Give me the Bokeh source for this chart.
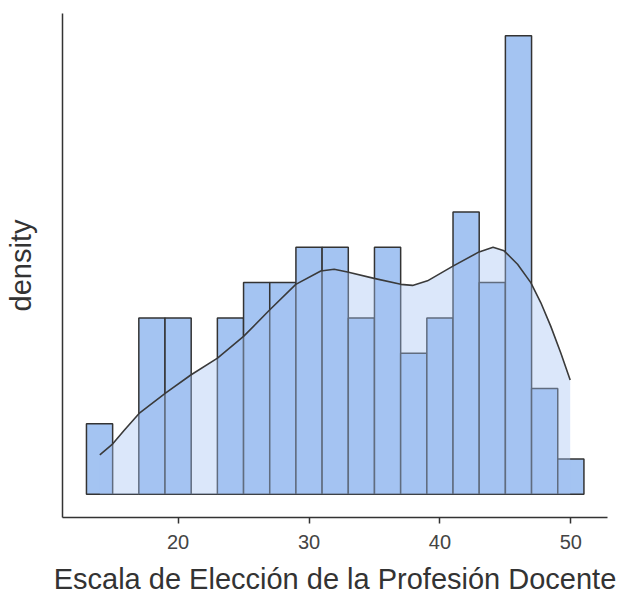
from bokeh.plotting import figure
from bokeh.models import Range1d, FixedTicker
from bokeh.embed import file_html
from bokeh.resources import INLINE

# ---- data ----
bin_left = [13, 15, 17, 19, 21, 23, 25, 27, 29, 31, 33, 35, 37, 39, 41, 43, 45, 47, 49]
bin_width = 2
counts = [2, 0, 5, 5, 0, 5, 6, 6, 7, 7, 5, 7, 4, 5, 8, 6, 13, 3, 1]

kde_x = [14.02, 15.01, 15.87, 17.02, 19.06, 20.97, 23.01, 25.00, 26.95, 28.99,
         30.90, 31.92, 32.94, 34.97, 37.01, 37.91, 39.05, 40.96, 42.99, 44.06,
         44.90, 45.93, 46.94, 47.71, 48.47, 49.24, 49.95]
kde_density = [0.00586, 0.00752, 0.00952, 0.01205, 0.01513, 0.01779, 0.02030, 0.02355,
               0.02742, 0.03132, 0.03332, 0.03358, 0.03316, 0.03221, 0.03132, 0.03116,
               0.03184, 0.03400, 0.03616, 0.03684, 0.03632, 0.03432, 0.03158, 0.02857,
               0.02505, 0.02105, 0.01705]

x_ticks = [20, 30, 40, 50]
x_label = "Escala de Elección de la Profesión Docente"
y_label = "density"

# ---- derived histogram (density normalisation) ----
n_total = sum(counts)
bin_right = [b + bin_width for b in bin_left]
density = [c / (n_total * bin_width) for c in counts]

BAR = "#a4c4f2"
EDGE = "#333333"
FONT = "Liberation Sans"

p = figure(width=621, height=598, output_backend="svg", toolbar_location=None,
           x_range=Range1d(11.17, 52.80),
           y_range=Range1d(-0.66 / (n_total * bin_width), 13.63 / (n_total * bin_width)),
           min_border_left=62, min_border_right=14, min_border_top=13, min_border_bottom=81)
p.outline_line_color = None
p.xgrid.grid_line_color = None
p.ygrid.grid_line_color = None
p.background_fill_color = "white"
p.border_fill_color = "white"

p.quad(left=bin_left, right=bin_right, bottom=0, top=density,
       fill_color=BAR, line_color=EDGE, line_width=1.5)
p.varea(x=kde_x, y1=0, y2=kde_density, fill_color=BAR, fill_alpha=0.4)
p.line(kde_x, kde_density, line_color="#3a3a3a", line_width=1.6)

xa = p.xaxis[0]
xa.ticker = FixedTicker(ticks=x_ticks)
xa.axis_label = x_label
xa.axis_line_color = EDGE
xa.axis_line_width = 1.5
xa.major_tick_line_color = EDGE
xa.major_tick_line_width = 1.5
xa.major_tick_out = 6
xa.major_tick_in = 0
xa.minor_tick_line_color = None
xa.major_label_text_font = FONT
xa.major_label_text_font_size = "20px"
xa.major_label_text_color = "#444444"
xa.major_label_standoff = 11
xa.axis_label_text_font = FONT
xa.axis_label_text_font_size = "29px"
xa.axis_label_text_font_style = "normal"
xa.axis_label_text_color = "#333333"
xa.axis_label_standoff = 11

ya = p.yaxis[0]
ya.axis_label = y_label
ya.axis_line_color = EDGE
ya.axis_line_width = 1.5
ya.major_tick_line_color = None
ya.minor_tick_line_color = None
ya.major_label_text_font_size = "0px"
ya.major_label_text_color = None
ya.axis_label_text_font = FONT
ya.axis_label_text_font_size = "29px"
ya.axis_label_text_font_style = "normal"
ya.axis_label_text_color = "#333333"
ya.axis_label_standoff = 20

open("out.html", "w").write(file_html(p, INLINE))
